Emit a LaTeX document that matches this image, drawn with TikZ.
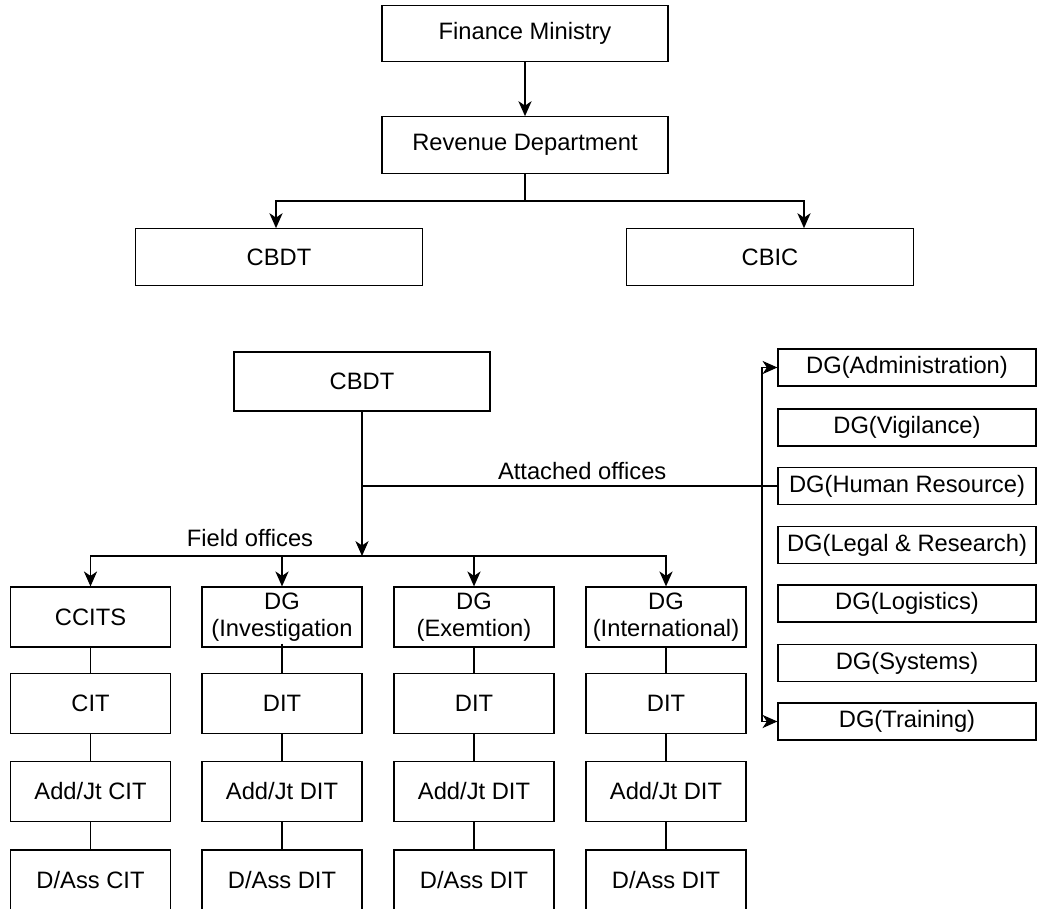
\documentclass[tikz,border=0pt]{standalone}
\usepackage{fontspec}
\setmainfont{Liberation Sans}
\usetikzlibrary{arrows.meta, positioning, calc}

\tikzset{
  box/.style={draw, line width=0.7pt, minimum width=5.72cm, minimum height=1.13cm,
    inner sep=1pt, align=center, font=\fontsize{13.5}{15}\selectfont},
  fieldbox/.style={box, minimum width=3.2cm, minimum height=1.2cm},
  dgbox/.style={box, minimum width=5.16cm, minimum height=0.74cm},
  link/.style={line width=0.7pt},
  arr/.style={link, -{Stealth[length=8.5pt, width=7.5pt, inset=2.5pt]}},
  lbl/.style={font=\fontsize{13.5}{16}\selectfont}
}

\begin{document}
\begin{tikzpicture}[x=0.02cm, y=-0.02cm]
  \useasboundingbox (0,0) rectangle (1038,909);

  % upper chart
  \node[box] (fin) at (525,33.5) {Finance Ministry};
  \node[box] (rev) at (525,145) {Revenue Department};
  \node[box, minimum width=5.74cm] (cbdt) at (279,257) {CBDT};
  \node[box, minimum width=5.74cm] (cbic) at (770,257) {CBIC};

  \coordinate (split) at (525,201);
  \draw[arr] (fin) -- (rev);
  \draw[link] (rev) -- (split);
  \draw[arr] (split) -| ([xshift=-0.06cm]cbdt.north);
  \draw[arr] (split) -| ([xshift=0.68cm]cbic.north);

  % CBDT and its offices
  \node[box, minimum width=5.12cm, minimum height=1.18cm] (board) at (362,381.5) {CBDT};

  \node[fieldbox] (ccits) at (90.5,617) {CCITS};
  \node[fieldbox] (cit) at (90.5,703.5) {CIT};
  \node[fieldbox] (addcit) at (90.5,791.5) {Add/Jt CIT};
  \node[fieldbox] (dcit) at (90.5,880) {D/Ass CIT};

  \node[fieldbox] (inv) at (282,617) {DG\\(Investigation};
  \node[fieldbox] (invdit) at (282,703.5) {DIT};
  \node[fieldbox] (invadd) at (282,791.5) {Add/Jt DIT};
  \node[fieldbox] (invd) at (282,880) {D/Ass DIT};

  \node[fieldbox] (exm) at (474,617) {DG\\(Exemtion)};
  \node[fieldbox] (exmdit) at (474,703.5) {DIT};
  \node[fieldbox] (exmadd) at (474,791.5) {Add/Jt DIT};
  \node[fieldbox] (exmd) at (474,880) {D/Ass DIT};

  \node[fieldbox] (intl) at (666,617) {DG\\(International)};
  \node[fieldbox] (intldit) at (666,703.5) {DIT};
  \node[fieldbox] (intladd) at (666,791.5) {Add/Jt DIT};
  \node[fieldbox] (intld) at (666,880) {D/Ass DIT};

  \node[dgbox] (adm) at (907,367.5) {DG(Administration)};
  \node[dgbox] (vig) at (907,427.5) {DG(Vigilance)};
  \node[dgbox] (hr) at (907,486) {DG(Human Resource)};
  \node[dgbox] (legal) at (907,545) {DG(Legal \& Research)};
  \node[dgbox] (logi) at (907,603.5) {DG(Logistics)};
  \node[dgbox] (sys) at (907,663) {DG(Systems)};
  \node[dgbox] (trg) at (907,721.5) {DG(Training)};

  % field offices
  \coordinate (fsplit) at (362,556);
  \draw[arr] (board) -- (fsplit);
  \draw[arr] (fsplit) -| (ccits.north);
  \draw[arr] (fsplit) -| (inv.north);
  \draw[arr] (fsplit) -| (exm.north);
  \draw[arr] (fsplit) -| (intl.north);
  \node[lbl] (fieldlbl) at (250,538) {Field offices};

  \draw[link] (ccits) -- (cit) (cit) -- (addcit) (addcit) -- (dcit);
  \draw[link] ([yshift=0.08cm]inv.south) -- (invdit) (invdit) -- (invadd) (invadd) -- (invd);
  \draw[link] (exm) -- (exmdit) (exmdit) -- (exmadd) (exmadd) -- (exmd);
  \draw[link] (intl) -- (intldit) (intldit) -- (intladd) (intladd) -- (intld);

  % attached offices
  \coordinate (bar) at (762,486);
  \draw[link] (board.south |- hr.west) -- (hr.west)
    node[lbl, pos=0.53, above, inner sep=3pt] {Attached offices};
  \draw[arr] (bar) |- (adm.west);
  \draw[arr] (bar) |- (trg.west);
\end{tikzpicture}
\end{document}
